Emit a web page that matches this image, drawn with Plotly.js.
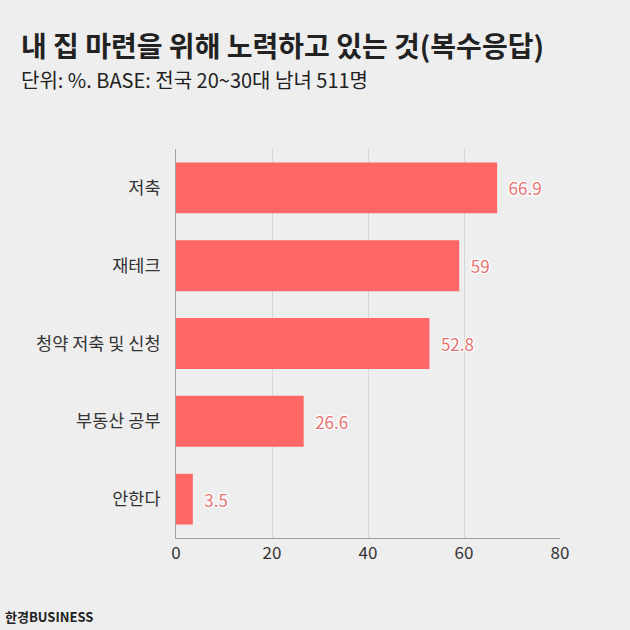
<!DOCTYPE html>
<html><head><meta charset="utf-8">
<script src="https://cdn.plot.ly/plotly-3.0.1.min.js"></script>
<style>html,body{margin:0;padding:0;background:#eeeeee;}</style>
</head><body>
<div id="chart" style="width:630px;height:630px;"></div>
<script>
const categories = ["저축", "재테크", "청약 저축 및 신청", "부동산 공부", "안한다"];
const values = [66.9, 59, 52.8, 26.6, 3.5];
const valueLabels = ["66.9", "59", "52.8", "26.6", "3.5"];
const tickVals = [0, 20, 40, 60, 80];
const titleText = "내 집 마련을 위해 노력하고 있는 것(복수응답)";
const subtitleText = "단위: %. BASE: 전국 20~30대 남녀 511명";
const sourceText = "한경BUSINESS";

const F = "'Noto Sans CJK KR', 'Noto Sans', sans-serif";
const trace = {
  type: "bar", orientation: "h",
  y: categories, x: values,
  text: valueLabels, texttemplate: "\u2002%{text}", textposition: "outside", cliponaxis: false,
  marker: {color: "#ff6666"},
  textfont: {family: F, size: 17, color: "#e57373",
    shadow: "1px 1px 1px #fff, -1px -1px 1px #fff, 1px -1px 1px #fff, -1px 1px 1px #fff"},
  hoverinfo: "none"
};
const layout = {
  width: 630, height: 630,
  paper_bgcolor: "#eeeeee", plot_bgcolor: "#eeeeee",
  margin: {l: 176, r: 70, t: 148.5, b: 91.5},
  bargap: 0.346,
  showlegend: false,
  font: {family: F, color: "#333"},
  xaxis: {range: [0, 80], tickvals: tickVals, showgrid: true, gridcolor: "#d6d6d6", gridwidth: 1,
    zeroline: false, showline: true, linecolor: "#a0a0a0", linewidth: 1,
    ticks: "", tickfont: {family: F, size: 17, color: "#333"}, fixedrange: true},
  yaxis: {autorange: "reversed", showline: true, linecolor: "#a0a0a0", linewidth: 1,
    showgrid: false, zeroline: false, ticks: "", ticklabelstandoff: 11,
    tickfont: {family: F, size: 17.5, color: "#333"}, fixedrange: true},
  annotations: [
    {text: "<b>" + titleText + "</b>", xref: "paper", yref: "paper", x: 0, xanchor: "left",
     y: 1, yanchor: "middle", showarrow: false, font: {family: F, size: 28, color: "#222"}},
    {text: subtitleText, xref: "paper", yref: "paper", x: 0, xanchor: "left",
     y: 0, yanchor: "middle", showarrow: false, font: {family: F, size: 20, color: "#222"}},
    {text: "<b>" + sourceText + "</b>", xref: "paper", yref: "paper", x: 0, xanchor: "left",
     y: 0, yanchor: "middle", showarrow: false, font: {family: F, size: 13, color: "#222"}}
  ]
};
const plotW = 630 - 176 - 70, plotH = 630 - 148.5 - 91.5;
function px(x){ return (x - 176) / plotW; }
function py(y){ return (630 - 91.5 - y) / plotH; }
layout.annotations[0].x = px(19); layout.annotations[0].y = py(44);
layout.annotations[1].x = px(19); layout.annotations[1].y = py(79);
layout.annotations[2].x = px(3); layout.annotations[2].y = py(617);
Plotly.newPlot("chart", [trace], layout, {displayModeBar: false, staticPlot: true});
</script>
</body></html>
